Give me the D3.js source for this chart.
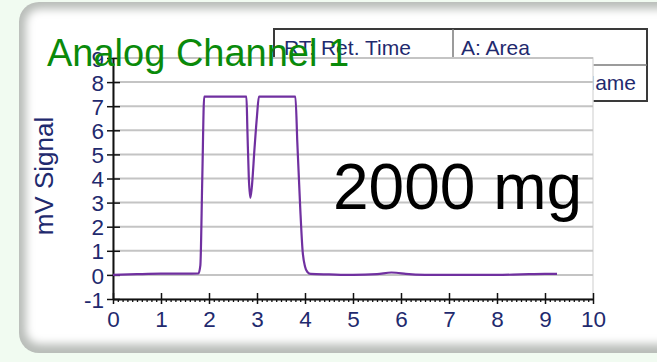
<!DOCTYPE html>
<html>
<head>
<meta charset="utf-8">
<script src="https://cdn.jsdelivr.net/npm/d3@7"></script>
<style>
  html, body { margin: 0; padding: 0; background: #f1fbf1; }
  svg { display: block; font-family: "Liberation Sans", Arial, sans-serif; }
</style>
</head>
<body>
<svg id="chart" width="657" height="362"></svg>
<script>
// signal trace (minutes, mV)
const timeMin = [0, 0.5, 1.0, 1.5, 1.78, 1.82, 1.86, 1.9, 2.78, 2.8, 2.83, 2.86, 2.89, 2.95, 3.0, 3.04,
  3.8, 3.84, 3.9, 3.95, 4.0, 4.05, 4.12, 4.5, 5.0, 5.5, 5.8, 5.9, 6.1, 6.5, 7.0, 7.5, 8.0, 8.5, 9.0, 9.25];
const signalMv = [0, 0.03, 0.05, 0.05, 0.06, 0.4, 4.0, 7.4, 7.4, 6.0, 4.0, 3.2, 3.6, 5.3, 6.6, 7.4,
  7.4, 5.5, 2.8, 1.0, 0.35, 0.12, 0.04, 0.02, 0.0, 0.03, 0.1, 0.09, 0.04, 0.0, 0.0, 0.0, 0.0, 0.02, 0.04, 0.04];

const xTicks = [0, 1, 2, 3, 4, 5, 6, 7, 8, 9, 10];
const yTicks = [-1, 0, 1, 2, 3, 4, 5, 6, 7, 8, 9];
const gridVals = [0, 1, 2, 3, 4, 5, 6, 7, 8, 9];

const tableRow1 = ["RT: Ret. Time", "A: Area"];
const tableRow2 = ["", "PN: Peak Name"];

const svg = d3.select("#chart");
const labelColor = "#1f2a6e";

// panel with soft inner shadow
const defs = svg.append("defs");
defs.append("filter").attr("id", "soft")
  .attr("x", "-10%").attr("y", "-10%").attr("width", "120%").attr("height", "120%")
  .append("feGaussianBlur").attr("stdDeviation", 4);

svg.append("rect").attr("width", 657).attr("height", 362).attr("fill", "#f1fbf1");
svg.append("rect").attr("x", 19).attr("y", 2).attr("width", 680).attr("height", 351)
  .attr("rx", 20).attr("fill", "#b9bdb9");
svg.append("rect").attr("x", 26).attr("y", 9).attr("width", 670).attr("height", 335)
  .attr("rx", 14).attr("fill", "#ffffff").attr("filter", "url(#soft)");

const x = d3.scaleLinear().domain([0, 10]).range([113, 593]);
const y = d3.scaleLinear().domain([-1, 9]).range([299, 58]);

// table behind the plot
const tbl = svg.append("g").attr("class", "table");
tbl.append("rect").attr("x", 274).attr("y", 29).attr("width", 373).attr("height", 72)
  .attr("fill", "#fff").attr("stroke", "#3a3a3a").attr("stroke-width", 2);
tbl.append("line").attr("x1", 274).attr("x2", 647).attr("y1", 65).attr("y2", 65)
  .attr("stroke", "#7a7a7a").attr("stroke-width", 1.5);
tbl.append("line").attr("x1", 453).attr("x2", 453).attr("y1", 29).attr("y2", 101)
  .attr("stroke", "#7a7a7a").attr("stroke-width", 1.5);
tbl.append("text").attr("x", 284).attr("y", 55).attr("font-size", 21).attr("fill", labelColor).text(tableRow1[0]);
tbl.append("text").attr("x", 461).attr("y", 55).attr("font-size", 21).attr("fill", labelColor).text(tableRow1[1]);
tbl.append("text").attr("x", 284).attr("y", 90).attr("font-size", 21).attr("fill", labelColor).text(tableRow2[0]);
tbl.append("text").attr("x", 636).attr("y", 90).attr("text-anchor", "end").attr("font-size", 21)
  .attr("fill", labelColor).text(tableRow2[1]);

// plot area
svg.append("rect").attr("x", x(0)).attr("y", y(9)).attr("width", x(10) - x(0)).attr("height", y(-1) - y(9))
  .attr("fill", "#fff").attr("stroke", "#dedede").attr("stroke-width", 1.5);

svg.append("g").selectAll("line").data(gridVals).join("line")
  .attr("x1", x(0)).attr("x2", x(10))
  .attr("y1", d => y(d)).attr("y2", d => y(d))
  .attr("stroke", "#c4c4c4").attr("stroke-width", 2);

// minor x ticks
const minor = d3.range(1, 100).filter(i => i % 10 !== 0).map(i => i / 10);
svg.append("g").attr("transform", `translate(0,${y(-1)})`)
  .call(d3.axisBottom(x).tickValues(minor).tickSize(3).tickFormat(""))
  .call(g => g.select(".domain").remove())
  .call(g => g.selectAll(".tick line").attr("stroke", "#111").attr("stroke-width", 1.3));

// x axis
svg.append("g").attr("transform", `translate(0,${y(-1)})`)
  .call(d3.axisBottom(x).tickValues(xTicks).tickSizeOuter(0).tickFormat(d => String(d)))
  .call(g => g.select(".domain").attr("stroke", "#111").attr("stroke-width", 2))
  .call(g => g.selectAll(".tick line").attr("y1", -6).attr("y2", 5).attr("stroke", "#111").attr("stroke-width", 1.5))
  .call(g => g.selectAll(".tick text").attr("y", 28).attr("dy", 0)
    .attr("font-size", 22.5).attr("font-family", "Liberation Sans, Arial").attr("fill", labelColor));

// y axis
svg.append("g").attr("transform", `translate(${x(0)},0)`)
  .call(d3.axisLeft(y).tickValues(yTicks).tickSizeOuter(0).tickFormat(d => String(d)))
  .call(g => g.select(".domain").attr("stroke", "#111").attr("stroke-width", 2))
  .call(g => g.selectAll(".tick line").attr("x1", 7).attr("x2", -6).attr("stroke", "#111").attr("stroke-width", 1.5))
  .call(g => g.selectAll(".tick text").attr("x", -9).attr("dy", "0.36em")
    .attr("font-size", 22.5).attr("font-family", "Liberation Sans, Arial").attr("fill", labelColor));

svg.append("text")
  .attr("transform", `translate(53,${y(4.1)}) rotate(-90)`)
  .attr("text-anchor", "middle").attr("font-size", 26).attr("fill", labelColor)
  .text("mV Signal");

// trace
const line = d3.line().x((d, i) => x(timeMin[i])).y(d => y(d)).curve(d3.curveMonotoneX);
svg.append("path").datum(signalMv)
  .attr("d", line)
  .attr("fill", "none").attr("stroke", "#7030a0").attr("stroke-width", 2.2);

svg.append("text").attr("x", 333).attr("y", 209).attr("font-size", 64).attr("fill", "#000")
  .text("2000 mg");

svg.append("text").attr("x", 47).attr("y", 66).attr("font-size", 38).attr("fill", "#0a8a0a")
  .text("Analog Channel 1");
</script>
</body>
</html>
